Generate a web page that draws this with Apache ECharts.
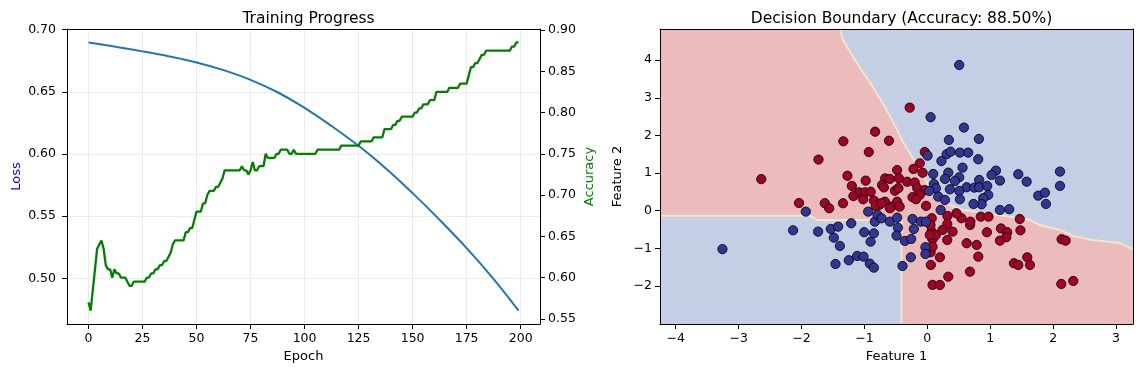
<!DOCTYPE html>
<html><head><meta charset="utf-8">
<script src="https://cdn.jsdelivr.net/npm/echarts@6/dist/echarts.min.js"></script>
<style>html,body{margin:0;padding:0;background:#fff}#c{width:1142px;height:374px}</style>
</head><body><div id="c"></div>
<script>
// ---------- data ----------
const accuracy = [
 0.57,0.56,0.585,0.61,0.635,0.64,0.645,0.635,0.615,0.61,
 0.61,0.60,0.61,0.605,0.605,0.60,0.60,0.60,0.595,0.59,
 0.59,0.595,0.595,0.595,0.595,0.595,0.595,0.60,0.60,0.605,
 0.605,0.61,0.61,0.615,0.615,0.62,0.62,0.625,0.63,0.64,
 0.645,0.645,0.645,0.645,0.645,0.655,0.655,0.66,0.66,0.67,
 0.68,0.68,0.68,0.69,0.69,0.70,0.705,0.705,0.705,0.71,
 0.71,0.715,0.72,0.73,0.73,0.73,0.73,0.73,0.73,0.73,
 0.73,0.735,0.73,0.73,0.725,0.73,0.74,0.73,0.73,0.735,
 0.735,0.735,0.75,0.745,0.745,0.745,0.745,0.75,0.75,0.755,
 0.755,0.755,0.755,0.75,0.75,0.755,0.75,0.75,0.75,0.75,
 0.75,0.75,0.75,0.75,0.75,0.75,0.755,0.755,0.755,0.755,
 0.755,0.755,0.755,0.755,0.755,0.755,0.755,0.76,0.76,0.76,
 0.76,0.76,0.76,0.76,0.76,0.76,0.765,0.765,0.765,0.765,
 0.765,0.765,0.77,0.77,0.77,0.77,0.77,0.78,0.78,0.78,
 0.78,0.785,0.785,0.79,0.79,0.795,0.795,0.795,0.795,0.795,
 0.795,0.80,0.80,0.805,0.805,0.81,0.81,0.81,0.815,0.815,
 0.815,0.825,0.825,0.825,0.825,0.825,0.825,0.83,0.83,0.83,
 0.83,0.83,0.835,0.835,0.835,0.835,0.845,0.855,0.855,0.86,
 0.86,0.865,0.87,0.87,0.875,0.875,0.875,0.875,0.875,0.875,
 0.875,0.875,0.875,0.875,0.875,0.875,0.88,0.88,0.885,0.885
];
const lossEpochs = [0,12.5,25,37.5,50,62.5,75,87.5,100,112.5,125,137.5,150,162.5,175,187.5,199];
const lossValues = [0.6898,0.6863,0.6826,0.6785,0.6737,0.6675,0.6597,0.6497,0.6372,0.6225,0.6066,0.5886,0.5685,0.547,0.5242,0.4993,0.474];

const epochTicks = [0,25,50,75,100,125,150,175,200];
const lossTicks = [0.50,0.55,0.60,0.65,0.70];
const accTicks = [0.55,0.60,0.65,0.70,0.75,0.80,0.85,0.90];
const feature1Ticks = [-4,-3,-2,-1,0,1,2,3];
const feature2Ticks = [-2,-1,0,1,2,3,4];

const redPoints = [
 [-2.64,0.84],[-1.73,1.36],[-1.335,1.845],[-0.83,2.10],[-0.61,1.86],[-0.93,1.56],[-0.28,2.74],[-0.04,1.56],
 [-0.12,1.26],[-0.22,1.11],[-0.075,1.01],[-0.48,1.08],[-1.27,0.93],[-0.98,0.80],[-1.20,0.66],[-0.67,0.86],
 [-0.595,0.845],[-0.45,0.86],[-0.32,0.77],[-0.72,0.685],[-0.69,0.62],[-0.515,0.53],[-0.46,0.60],[-0.20,0.75],
 [-0.16,0.60],[-0.04,0.55],[-1.085,0.49],[-0.99,0.49],[-0.90,0.505],[-1.175,0.39],[-1.02,0.305],[-0.85,0.27],
 [-0.765,0.155],[-0.675,0.24],[-0.48,0.24],[-0.57,0.11],[-0.44,0.11],[-0.235,0.36],[-0.12,0.42],[-0.18,0.305],
 [-0.02,0.13],[-1.63,0.20],[-1.56,0.065],[-1.34,0.20],[-0.82,0.13],[-0.73,0.20],[-2.04,0.205],[-0.595,0.065],
 [0.067,-0.556],[0.083,-0.76],[0.136,-0.645],[0.056,-1.44],[0.083,-1.97],[1.47,-0.22],[1.17,-0.47],[1.27,-0.57],
 [1.48,-0.52],[1.255,-0.705],[1.155,-0.795],[0.947,-0.572],[0.85,-0.157],[0.972,-0.157],[0.68,-0.378],[0.685,-0.29],
 [0.543,-0.20],[0.463,-0.067],[0.32,-0.14],[0.625,-0.864],[0.784,-0.909],[0.81,-1.22],[0.678,-1.62],[0.333,-1.753],
 [0.20,-1.973],[0.20,-1.237],[1.377,-1.396],[1.446,-1.44],[1.589,-1.237],[1.632,-1.44],[2.135,-0.758],[2.198,-0.795],
 [2.13,-1.946],[2.32,-1.866],[0.317,-0.777],[0.402,-0.556],[0.317,-0.351],[0.243,-0.51],[0.04,-0.644],[0.052,-1.104],
 [0.07,-0.2],[0.05,-0.38],[0.083,-0.955]
];
const bluePoints = [
 [-3.257,-1.02],[-2.134,-0.52],[-1.932,-0.024],[-1.736,-0.556],[-1.534,-0.484],[-1.418,-0.423],[-1.486,-0.716],[-1.39,-0.936],
 [-1.21,-0.333],[-1.46,-1.415],[-1.248,-1.316],[-1.116,-1.202],[-1.014,-1.22],[-0.914,-1.407],[-0.85,-1.513],[-1.004,-0.572],
 [-0.902,-0.822],[-0.85,-0.60],[-0.94,-0.024],[-0.834,-0.29],[-0.792,-0.112],[-0.728,-0.20],[-0.596,-0.29],[-0.479,-0.184],
 [-0.468,-0.45],[-0.489,-0.662],[-0.357,-0.803],[-0.257,-0.75],[-0.394,-1.468],[-0.262,-1.237],[-0.235,-0.219],[-0.214,-0.484],
 [-0.102,-0.29],[-0.023,-0.29],[-0.03,-0.97],[-0.03,-1.15],[0.507,3.874],[0.052,2.485],[0.582,2.21],[0.343,1.881],
 [0.82,1.908],[0.307,1.501],[0.37,1.57],[0.518,1.544],[0.65,1.544],[0.224,1.32],[0.809,1.368],[0.004,1.464],
 [0.56,1.145],[0.094,0.977],[0.333,1.012],[0.28,0.845],[0.507,0.889],[0.439,0.79],[1.091,1.066],[1.022,0.951],
 [1.154,0.80],[1.446,0.97],[1.579,0.773],[0.825,0.818],[0.625,0.624],[0.746,0.614],[0.825,0.624],[0.952,0.659],
 [0.968,0.42],[0.889,0.332],[0.863,0.172],[0.105,0.71],[0.136,0.597],[0.359,0.571],[0.507,0.526],[0.03,0.526],
 [0.173,0.375],[0.28,0.287],[0.518,0.305],[0.212,0.02],[1.154,0.02],[1.302,0.04],[1.764,0.401],[1.87,0.48],
 [1.886,0.18],[2.109,1.04],[2.109,0.66],[0.735,0.18]
];
// decision boundary (data coordinates)
const upperBoundary = [[-1.39,4.83],[-1.34,4.54],[-1.18,4.09],[-1.07,3.80],[-0.91,3.40],[-0.80,3.10],[-0.69,2.81],[-0.58,2.47],[-0.48,2.15],[-0.39,1.83],[-0.28,1.54],[-0.17,1.22],[-0.04,0.87],[0.04,0.55],[0.15,0.29],[0.36,0.15],[0.57,0.02],[1.11,-0.11],[1.63,-0.24],[1.79,-0.38],[2.11,-0.51],[2.32,-0.67],[2.63,-0.78],[3.06,-0.86],[3.27,-1.02]];
const lowerBoundary = [[-4.25,-0.13],[-1.87,-0.13],[-1.76,-0.245],[-0.41,-0.245],[-0.41,-3.01]];

// ---------- chart ----------
const FONT = 'DejaVu Sans';
const X1 = [-4.25, 3.27], Y2 = [-3.01, 4.83];
const fullRegion = [[X1[0],Y2[0]],[X1[1],Y2[0]],[X1[1],Y2[1]],[X1[0],Y2[1]]];
const upperRegion = upperBoundary.concat([[X1[1],Y2[1]]]);
const lowerRegion = lowerBoundary.concat([[X1[0],Y2[0]]]);
const minus = v => String(v).replace('-', '\u2212');

function tickAxis(o) {
  const ax = {
    type: 'value', gridIndex: o.grid, position: o.pos, min: o.min, max: o.max, z: o.z || 0,
    axisLine: {show: true, onZero: false, lineStyle: {color: '#000', width: 1}},
    axisTick: {show: !!o.ticks, customValues: o.ticks, length: 5, lineStyle: {color: '#000', width: 1}},
    axisLabel: {show: !!o.ticks, customValues: o.ticks, margin: o.margin || 8, color: '#000', fontFamily: FONT, fontSize: 12.5, formatter: o.fmt},
    splitLine: {show: !!o.split, lineStyle: {color: '#e6e6e6', width: 0.8}}
  };
  if (o.name) {
    ax.name = o.name; ax.nameLocation = 'middle'; ax.nameGap = o.gap;
    ax.nameTextStyle = {fontFamily: FONT, fontSize: 13, color: o.nameColor || '#000'};
    if (o.rot) ax.nameRotate = o.rot;
  }
  return ax;
}
function regionRender(points, color) {
  return function (params, api) {
    return {type: 'polygon', shape: {points: points.map(p => api.coord(p))}, style: {fill: color}, silent: true};
  };
}

const chart = echarts.init(document.getElementById('c'), null, {renderer: 'canvas'});
chart.setOption({
  animation: false,
  backgroundColor: '#fff',
  title: [
    {text: 'Training Progress', left: 303.5, top: 6, textAlign: 'center', textStyle: {fontFamily: FONT, fontSize: 15.5, fontWeight: 'normal', color: '#000'}},
    {text: 'Decision Boundary (Accuracy: 88.50%)', left: 896.5, top: 6, textAlign: 'center', textStyle: {fontFamily: FONT, fontSize: 15.5, fontWeight: 'normal', color: '#000'}}
  ],
  grid: [
    {left: 67, top: 29, width: 473, height: 295},
    {left: 660, top: 29, width: 473, height: 295}
  ],
  xAxis: [
    tickAxis({grid: 0, pos: 'bottom', min: -9.95, max: 208.95, ticks: epochTicks, split: true, name: 'Epoch', gap: 25, fmt: v => String(v)}),
    tickAxis({grid: 0, pos: 'top', min: -9.95, max: 208.95}),
    tickAxis({grid: 1, pos: 'bottom', min: X1[0], max: X1[1], ticks: feature1Ticks, name: 'Feature 1', gap: 25, fmt: minus, z: 10}),
    tickAxis({grid: 1, pos: 'top', min: X1[0], max: X1[1], z: 10})
  ],
  yAxis: [
    tickAxis({grid: 0, pos: 'left', min: 0.4632, max: 0.7006, ticks: lossTicks, split: true, name: 'Loss', gap: 44, rot: 90, nameColor: '#0000ff', margin: 11, fmt: v => v.toFixed(2)}),
    tickAxis({grid: 0, pos: 'right', min: 0.54375, max: 0.90125, ticks: accTicks, name: 'Accuracy', gap: 43, rot: 90, nameColor: '#008000', fmt: v => v.toFixed(2)}),
    tickAxis({grid: 1, pos: 'left', min: Y2[0], max: Y2[1], ticks: feature2Ticks, name: 'Feature 2', gap: 36, rot: 90, fmt: minus, z: 10}),
    tickAxis({grid: 1, pos: 'right', min: Y2[0], max: Y2[1], z: 10})
  ],
  series: [
    {type: 'line', xAxisIndex: 0, yAxisIndex: 0, data: lossEpochs.map((e, i) => [e, lossValues[i]]), smooth: 0.4,
     showSymbol: false, lineStyle: {color: '#1f77b4', width: 2}, itemStyle: {color: '#1f77b4'}, z: 3},
    {type: 'line', xAxisIndex: 0, yAxisIndex: 1, data: accuracy.map((v, i) => [i, v]),
     showSymbol: false, lineStyle: {color: '#008000', width: 2.3}, itemStyle: {color: '#008000'}, z: 4},
    {type: 'custom', xAxisIndex: 2, yAxisIndex: 2, data: [[0, 0]], renderItem: regionRender(fullRegion, '#ecbcbd'), z: 1, silent: true},
    {type: 'custom', xAxisIndex: 2, yAxisIndex: 2, data: [[0, 0]], renderItem: regionRender(upperRegion, '#c4cee5'), z: 1, silent: true},
    {type: 'custom', xAxisIndex: 2, yAxisIndex: 2, data: [[0, 0]], renderItem: regionRender(lowerRegion, '#c4cee5'), z: 1, silent: true},
    {type: 'line', xAxisIndex: 2, yAxisIndex: 2, data: upperBoundary, showSymbol: false, silent: true, lineStyle: {color: '#f4e4c8', width: 2}, z: 2},
    {type: 'line', xAxisIndex: 2, yAxisIndex: 2, data: lowerBoundary, showSymbol: false, silent: true, lineStyle: {color: '#f4e4c8', width: 2}, z: 2},
    {type: 'scatter', xAxisIndex: 2, yAxisIndex: 2, data: redPoints, symbolSize: 9.3, z: 5,
     itemStyle: {color: '#a50026', borderColor: '#000', borderWidth: 0.8, opacity: 1}},
    {type: 'scatter', xAxisIndex: 2, yAxisIndex: 2, data: bluePoints, symbolSize: 9.3, z: 5,
     itemStyle: {color: '#313695', borderColor: '#000', borderWidth: 0.8, opacity: 1}}
  ]
});
</script></body></html>
